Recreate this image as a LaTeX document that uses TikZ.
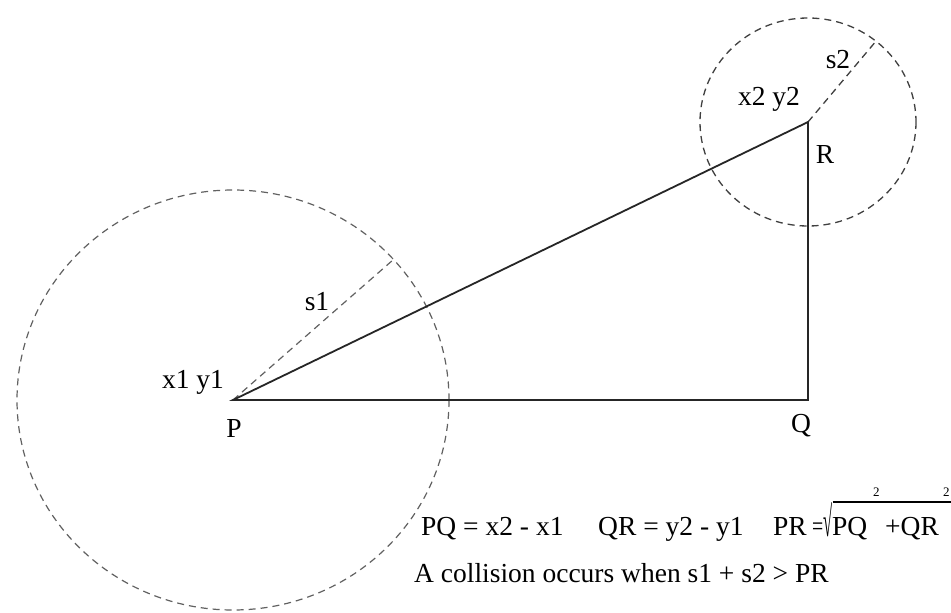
\documentclass[tikz,border=0pt]{standalone}
\usepackage{fontspec}
\setmainfont{Liberation Serif}
\usetikzlibrary{calc}
\begin{document}
\begin{tikzpicture}[x=1pt,y=-1pt,
  tri/.style={line width=1.8pt, draw=black!85, line join=miter},
  ring/.style={draw=black!62, line width=1.2pt, dash pattern=on 7pt off 5pt},
  ringdark/.style={ring, draw=black!75, line width=1.3pt},
  lbl/.style={font=\fontsize{27.5}{32}\selectfont, inner sep=0pt, text=black},
  supr/.style={font=\fontsize{13}{15}\selectfont, inner sep=0pt, text=black},
]
\useasboundingbox[fill=white] (0,0) rectangle (951,613);
% vertices
\coordinate (P) at (233,400);
\coordinate (Q) at (808,400);
\coordinate (R) at (808,122);
% dashed circles
\draw[ring] (P) ellipse [x radius=216, y radius=210];
\draw[ringdark] (R) ellipse [x radius=108, y radius=104];
\coordinate (S1) at ($(P)+(-42:216 and 210)$);
\coordinate (S2) at ($(R)+(-51:108 and 104)$);
\draw[ring] (P) -- (S1);
\draw[ringdark] (R) -- (S2);
% triangle
\draw[tri] (P) -- (Q) -- (R) -- cycle;
% labels
\node[lbl, anchor=base] (lx1) at (193,388) {x1 y1};
\node[lbl, anchor=base] (ls1) at (317,310) {s1};
\node[lbl, anchor=base] (lP) at (234,437) {P};
\node[lbl, anchor=base] (lQ) at (801,432) {Q};
\node[lbl, anchor=base] (lR) at (825,163) {R};
\node[lbl, anchor=base] (lx2) at (769,105) {x2 y2};
\node[lbl, anchor=base] (ls2) at (838,68) {s2};
% formulas
\node[lbl, anchor=base west] (f1) at (421,535) {PQ = x2 - x1};
\node[lbl, anchor=base west] (f2) at (598,535) {QR = y2 - y1};
\node[lbl, anchor=base west] (f3) at (773,535) {PR};
\node[lbl, anchor=base west, xscale=0.72] (eq) at (812,535) {=};
\node[lbl, anchor=base west, xscale=0.6, yscale=1.55] (sq) at (823.5,536) {√};
\draw[line width=1.2pt, draw=black] (sq.north east) -- (sq.north east -| 951,0);
\node[lbl, anchor=base west] (pq) at (832,535) {PQ};
\node[supr, anchor=base west] (e1) at (873,496) {2};
\node[lbl, anchor=base west] (qr) at (885,535) {+QR};
\node[supr, anchor=base west] (e2) at (943,496) {2};
\node[lbl, anchor=base west] (col) at (414,582) {A collision occurs when s1 + s2 > PR};
\end{tikzpicture}
\end{document}
